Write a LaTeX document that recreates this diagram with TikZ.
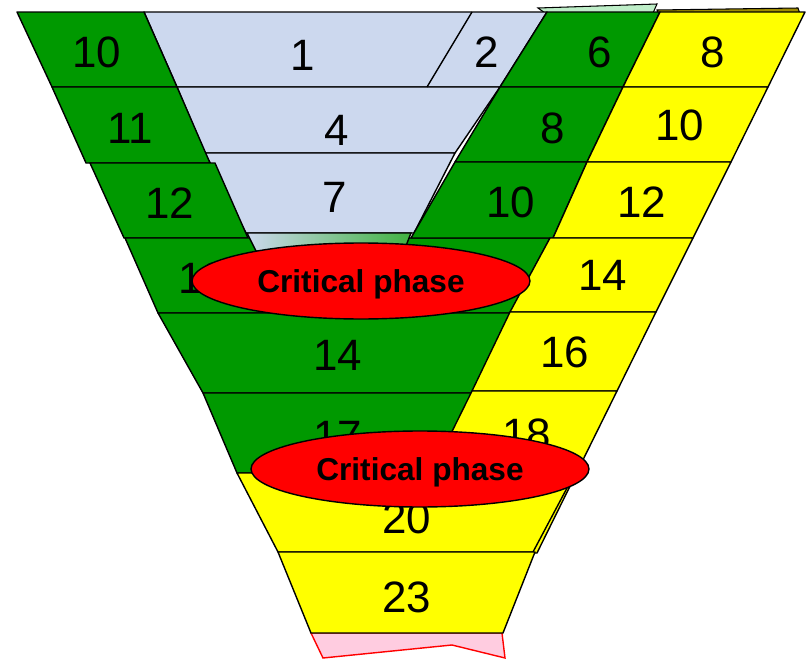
\documentclass[tikz,border=0pt]{standalone}
\usepackage{fontspec}
\setmainfont{Liberation Sans}
\usetikzlibrary{shapes.geometric}
\definecolor{phasegreen}{RGB}{0,153,0}
\definecolor{phaseblue}{RGB}{204,216,238}
\definecolor{phaseyellow}{RGB}{255,255,0}
\definecolor{phasered}{RGB}{255,0,0}
\definecolor{phasepink}{RGB}{255,204,224}
\definecolor{mintsliver}{RGB}{190,238,200}
\definecolor{olivesliver}{RGB}{160,140,0}

\begin{document}
\begin{tikzpicture}[
  x=0.02cm, y=-0.02cm,
  band/.style       ={draw=black, line width=0.8pt, line join=round},
  greenband/.style  ={band, fill=phasegreen},
  blueband/.style   ={band, fill=phaseblue},
  yellowband/.style ={band, fill=phaseyellow},
  num/.style        ={font=\fontsize{25}{30}\selectfont, inner sep=0pt},
  critical/.style   ={ellipse, draw=black, line width=0.8pt, fill=phasered,
                      minimum width=6.76cm, minimum height=1.52cm, inner sep=0pt,
                      text depth=0pt,
                      font=\fontsize{18}{22}\selectfont\bfseries}
]
  \useasboundingbox (0,0) rectangle (806,659);

  % slivers along the top
  \filldraw[fill=mintsliver, draw=black, line width=0.6pt] (538,8) -- (657,4) -- (653,13) -- (545,13) -- cycle;
  \filldraw[fill=olivesliver, draw=black, line width=0.6pt] (657,10) -- (798,8) -- (800,14) -- (658,14) -- cycle;

  % blue core
  \draw[blueband] (144,12) -- (547,12) -- (500,87) -- (177,87) -- cycle;
  \draw[blueband] (177,87) -- (500,87) -- (455,153) -- (205,153) -- cycle;
  \draw[blueband] (205,153) -- (455,153) -- (414,233) -- (246,233) -- cycle;
  \draw[band] (472,12) -- (427,87);

  % green, left and centre
  \draw[greenband] (17,12) -- (144,12) -- (177,87) -- (52,87) -- cycle;
  \draw[greenband] (52,87) -- (177,87) -- (210,163) -- (86,163) -- cycle;
  \draw[greenband] (90,163) -- (215,163) -- (248,238) -- (124,238) -- cycle;
  \draw[greenband] (125,238) -- (550,238) -- (510,313) -- (158,313) -- cycle;
  \draw[greenband] (158,313) -- (510,313) -- (472,393) -- (203,393) -- cycle;
  \draw[greenband] (203,393) -- (472,393) -- (433,473) -- (237,473) -- cycle;

  % green, right
  \draw[greenband] (547,12) -- (660,12) -- (623,87) -- (500,87) -- cycle;
  \draw[greenband] (500,87) -- (623,87) -- (587,162) -- (455,162) -- cycle;
  \draw[greenband] (455,162) -- (587,162) -- (553,238) -- (411,238) -- cycle;

  \shade[left color=phaseblue, right color=phasegreen!75, draw=black, line width=0.8pt]
    (247,233) -- (411,233) -- (404,251) -- (256,251) -- cycle;

  % yellow
  \draw[yellowband] (660,12) -- (805,12) -- (768,87) -- (623,87) -- cycle;
  \draw[yellowband] (623,87) -- (768,87) -- (731,162) -- (587,162) -- cycle;
  \draw[yellowband] (587,162) -- (731,162) -- (693,238) -- (553,238) -- cycle;
  \draw[yellowband] (550,238) -- (693,238) -- (656,312) -- (510,312) -- cycle;
  \draw[yellowband] (510,312) -- (656,312) -- (617,391) -- (472,391) -- cycle;
  \draw[yellowband] (472,391) -- (617,391) -- (537,553) -- (392,553) -- cycle;
  \draw[yellowband] (237,473) -- (575,473) -- (533,552) -- (278,552) -- cycle;
  \filldraw[fill=phasepink, draw=phasered, line width=0.8pt]
    (311,633) -- (502,633) -- (505,658) -- (452,645) -- (323,658) -- cycle;
  \draw[yellowband] (278,552) -- (535,552) -- (503,633) -- (311,633) -- cycle;

  \node[num] (left10)  at (97,52)   {10};
  \node[num] (mid1)    at (303,55)  {1};
  \node[num] (mid2)    at (487,52)  {2};
  \node[num] (right6)  at (600,52)  {6};
  \node[num] (yel8)    at (713,52)  {8};
  \node[num] (left11)  at (130,128) {11};
  \node[num] (mid4)    at (337,130) {4};
  \node[num] (right8)  at (553,128) {8};
  \node[num] (yel10)   at (680,125) {10};
  \node[num] (left12)  at (170,203) {12};
  \node[num] (mid7)    at (335,197) {7};
  \node[num] (right10) at (511,202) {10};
  \node[num] (yel12)   at (642,202) {12};
  \node[num] (left13)  at (203,278) {13};
  \node[num] (yel14)   at (603,275) {14};
  \node[num] (mid14)   at (338,355) {14};
  \node[num] (yel16)   at (565,352) {16};
  \node[num] (mid17)   at (338,436) {17};
  \node[num] (yel18)   at (527,434) {18};
  \node[num] (mid20)   at (407,518) {20};
  \node[num] (mid23)   at (407,597) {23};

  \node[critical] (crit1) at (361,281) {Critical phase};
  \node[critical] (crit2) at (420,469) {Critical phase};
\end{tikzpicture}
\end{document}
